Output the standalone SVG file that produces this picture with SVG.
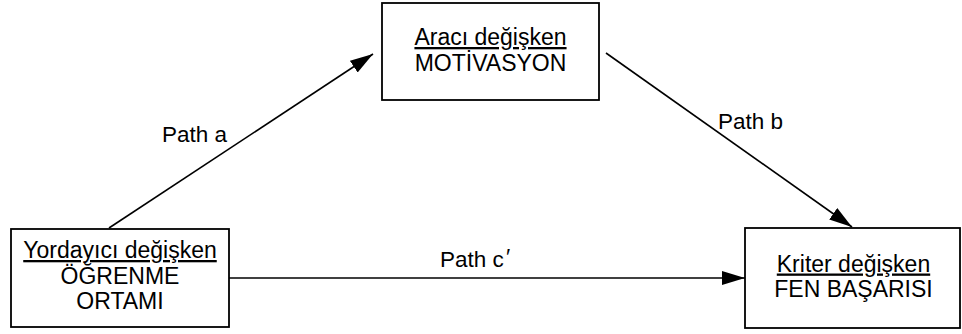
<svg xmlns="http://www.w3.org/2000/svg" width="962" height="334" viewBox="0 0 962 334">
  <style>
    .box { fill: #ffffff; stroke: #000000; stroke-width: 1.8; }
    .lbl { font-family: "Liberation Sans", Arial, sans-serif; font-size: 23px; fill: #000000; text-anchor: middle; }
    .head-lbl { text-decoration: underline; }
    .path-lbl { font-family: "Liberation Sans", Arial, sans-serif; font-size: 22.5px; fill: #000000; }
    .edge { stroke: #000000; stroke-width: 1.6; fill: none; marker-end: url(#head); }
  </style>
  <defs>
    <marker id="head" markerUnits="userSpaceOnUse" markerWidth="23" markerHeight="14" refX="23" refY="7" orient="auto">
      <path d="M0,0 L23,7 L0,14 z" fill="#000000"/>
    </marker>
  </defs>
  <rect width="962" height="334" fill="#ffffff"/>

  <g id="connectors">
    <line class="edge" x1="109" y1="228" x2="373" y2="54"/>
    <line class="edge" x1="606" y1="53" x2="852" y2="227"/>
    <line class="edge" x1="229" y1="278" x2="745" y2="278"/>
    <text class="path-lbl" x="162" y="142">Path a</text>
    <text class="path-lbl" x="718" y="129">Path b</text>
    <text class="path-lbl" x="440" y="267">Path c</text>
    <text class="path-lbl" x="506" y="264" font-size="15">′</text>
  </g>

  <g id="mediator">
    <rect class="box" x="382" y="3" width="217" height="97"/>
    <text class="lbl head-lbl" x="490.5" y="45">Aracı değişken</text>
    <text class="lbl" x="490.5" y="71">MOTİVASYON</text>
  </g>

  <g id="predictor">
    <rect class="box" x="11" y="229" width="218" height="98"/>
    <text class="lbl head-lbl" x="120" y="258">Yordayıcı değişken</text>
    <text class="lbl" x="120" y="283.5">ÖĞRENME</text>
    <text class="lbl" x="120" y="309">ORTAMI</text>
  </g>

  <g id="criterion">
    <rect class="box" x="745" y="228" width="215" height="100"/>
    <text class="lbl head-lbl" x="853.5" y="271.5">Kriter değişken</text>
    <text class="lbl" x="853.5" y="297">FEN BAŞARISI</text>
  </g>
</svg>
